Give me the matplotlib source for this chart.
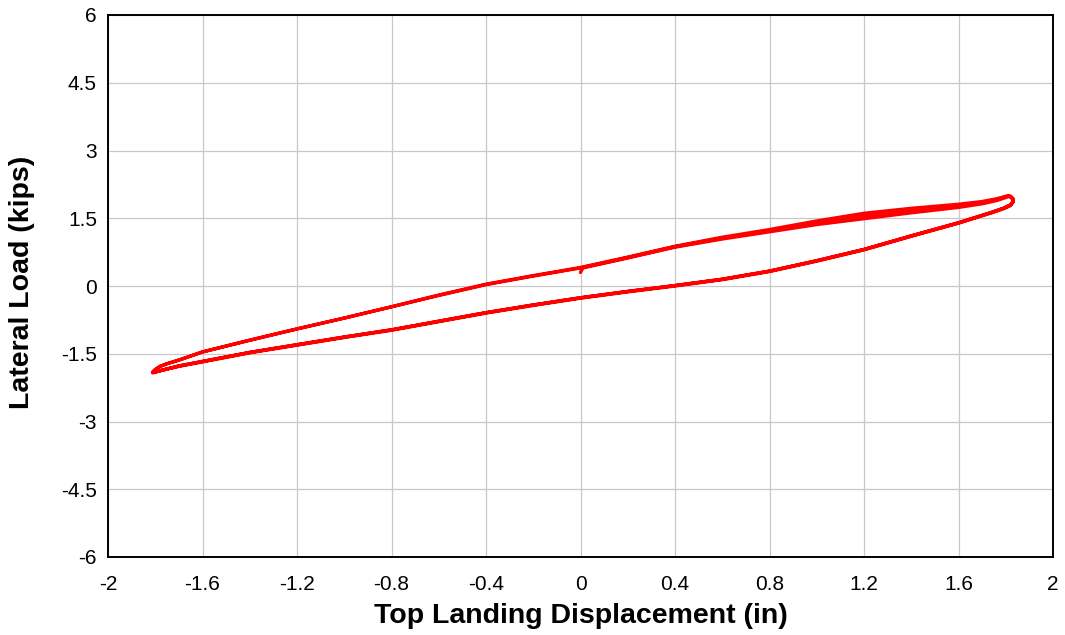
import numpy as np
import matplotlib
matplotlib.use("Agg")
import matplotlib.pyplot as plt

# --- Hysteresis record: top landing displacement (in) vs lateral load (kips) ---

# Initial excursion from rest onto the loading branch
start_disp = [0.00, 0.01]
start_load = [0.30, 0.40]

# Loading branches (negative peak -> positive peak), one per cycle
up_disp = [-1.81, -1.80, -1.78, -1.75, -1.70, -1.60, -1.40, -1.20, -1.00, -0.80,
           -0.60, -0.40, -0.20, 0.00, 0.20, 0.40, 0.60, 0.80, 1.00, 1.20,
           1.40, 1.60, 1.70, 1.76, 1.79, 1.81]
up_load_c1 = [-1.89, -1.84, -1.77, -1.71, -1.63, -1.45, -1.19, -0.94, -0.70, -0.45,
              -0.21, 0.03, 0.22, 0.39, 0.62, 0.86, 1.04, 1.20, 1.36, 1.49,
              1.62, 1.74, 1.82, 1.89, 1.94, 1.98]
up_load_c2 = [-1.90, -1.85, -1.78, -1.72, -1.64, -1.46, -1.20, -0.95, -0.71, -0.46,
              -0.21, 0.03, 0.22, 0.40, 0.63, 0.87, 1.06, 1.22, 1.40, 1.55,
              1.67, 1.78, 1.85, 1.91, 1.96, 1.99]
up_load_c3 = [-1.90, -1.85, -1.78, -1.72, -1.64, -1.46, -1.20, -0.95, -0.71, -0.46,
              -0.20, 0.04, 0.23, 0.41, 0.64, 0.88, 1.08, 1.25, 1.44, 1.61,
              1.72, 1.81, 1.87, 1.93, 1.97, 2.00]

# Unloading branches (positive peak -> negative peak), one per cycle
down_disp = [1.82, 1.83, 1.83, 1.82, 1.79, 1.74, 1.60, 1.40, 1.20, 1.00,
             0.80, 0.60, 0.40, 0.20, 0.00, -0.20, -0.40, -0.60, -0.80, -1.00,
             -1.20, -1.40, -1.60, -1.70, -1.76, -1.79, -1.81]
down_load_c1 = [1.97, 1.92, 1.85, 1.78, 1.71, 1.62, 1.39, 1.10, 0.80, 0.55,
                0.32, 0.14, 0.00, -0.13, -0.27, -0.43, -0.60, -0.79, -0.98, -1.14,
                -1.31, -1.48, -1.68, -1.78, -1.85, -1.89, -1.91]
down_load_c2 = [1.98, 1.93, 1.86, 1.79, 1.72, 1.63, 1.40, 1.11, 0.81, 0.56,
                0.33, 0.15, 0.01, -0.12, -0.26, -0.42, -0.59, -0.78, -0.97, -1.13,
                -1.30, -1.47, -1.67, -1.77, -1.85, -1.89, -1.92]
down_load_c3 = [1.99, 1.94, 1.87, 1.80, 1.72, 1.63, 1.40, 1.11, 0.81, 0.56,
                0.33, 0.15, 0.01, -0.12, -0.26, -0.42, -0.59, -0.78, -0.97, -1.13,
                -1.30, -1.47, -1.67, -1.77, -1.85, -1.89, -1.92]

x_ticks = [-2, -1.6, -1.2, -0.8, -0.4, 0, 0.4, 0.8, 1.2, 1.6, 2]
x_tick_labels = ["-2", "-1.6", "-1.2", "-0.8", "-0.4", "0", "0.4", "0.8", "1.2", "1.6", "2"]
y_ticks = [-6, -4.5, -3, -1.5, 0, 1.5, 3, 4.5, 6]
y_tick_labels = ["-6", "-4.5", "-3", "-1.5", "0", "1.5", "3", "4.5", "6"]

# Assemble the full recorded path: start, then three full cycles
i0 = up_disp.index(0.20)
disp = list(start_disp) + up_disp[i0:]
load = list(start_load) + up_load_c1[i0:]
disp += down_disp + up_disp
load += down_load_c1 + up_load_c2
disp += down_disp + up_disp
load += down_load_c2 + up_load_c3
disp += down_disp
load += down_load_c3

plt.rcParams["font.family"] = ["Liberation Sans", "DejaVu Sans"]

fig = plt.figure(figsize=(10.65, 6.35), dpi=100)
ax = fig.add_axes([108 / 1065, 1 - 557 / 635, (1053 - 108) / 1065, (557 - 15) / 635])

ax.plot(disp, load, color="#ff0000", linewidth=2.4, solid_joinstyle="round",
        solid_capstyle="round", zorder=3)

ax.set_xlim(-2, 2)
ax.set_ylim(-6, 6)
ax.set_xticks(x_ticks)
ax.set_xticklabels(x_tick_labels)
ax.set_yticks(y_ticks)
ax.set_yticklabels(y_tick_labels)
ax.tick_params(axis="x", length=0, pad=13, labelsize=15)
ax.tick_params(axis="y", length=0, pad=8, labelsize=15)

ax.grid(True, color="#c8c8c8", linewidth=0.9)
ax.set_axisbelow(True)
for s in ax.spines.values():
    s.set_color("black")
    s.set_linewidth(1.4)

fig.text(581 / 1065, 1 - 623 / 635, "Top Landing Displacement (in)",
         ha="center", va="baseline", fontsize=20.5, fontweight="bold")
fig.text(22 / 1065, 1 - 282 / 635, "Lateral Load (kips)", rotation=90,
         ha="center", va="center", fontsize=20.5, fontweight="bold")

fig.savefig("out.png", dpi=100)
